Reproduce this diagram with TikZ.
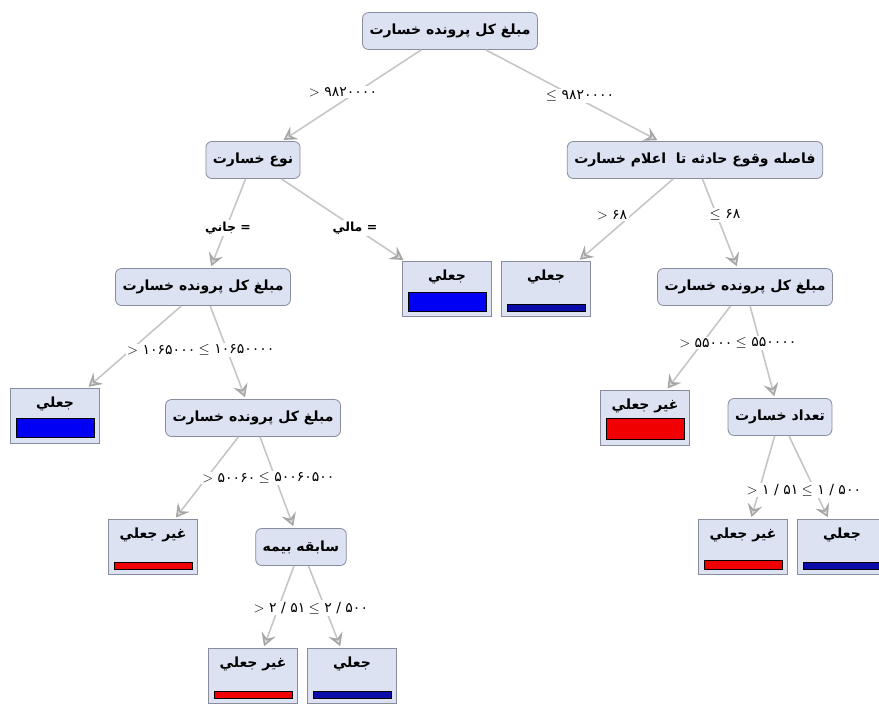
\documentclass[tikz,border=0pt]{standalone}
\usepackage{fontspec}
\newfontfamily\fa[Script=Arabic]{DejaVu Sans}
\newfontfamily\num{DejaVu Sans}
\TeXXeTstate=1
\usetikzlibrary{positioning,arrows.meta}
\definecolor{boxblue}{RGB}{221,226,242}
\definecolor{boxline}{RGB}{135,140,158}
\definecolor{barblue}{RGB}{0,0,245}
\definecolor{bardark}{RGB}{12,12,170}
\definecolor{barred}{RGB}{240,0,0}

\begin{document}
\begin{tikzpicture}[x=1pt, y=-1pt,
	split/.style={ rounded corners=6pt, draw=boxline, fill=boxblue, thick, minimum height=37pt, inner xsep=7pt, font=\fa\bfseries\fontsize{14}{16}\selectfont },
	leaf/.style={ draw=boxline, fill=boxblue, thick, minimum width=89pt, minimum height=55pt, inner sep=0pt, text height=15pt, text depth=32pt, font=\fa\bfseries\fontsize{14}{16}\selectfont },
	barfull/.style={ draw=black, line width=0.8pt, minimum width=78pt, minimum height=19pt, inner sep=0pt },
	barthin/.style={ draw=black, line width=0.8pt, minimum width=78pt, minimum height=7pt, inner sep=0pt },
	edge/.style={ draw=gray!45, line width=1.6pt, shorten >=2pt, -{Stealth[length=13pt,width=15pt,inset=5pt,fill=gray!25,color=gray!70]} },
	lbl/.style={ fill=white, inner sep=1.5pt, font=\num\fontsize{14}{16}\selectfont },
	lblb/.style={ fill=white, inner sep=1.5pt, font=\fa\bfseries\fontsize{12.5}{14}\selectfont }
]
\useasboundingbox (0,0) rectangle (879,707);

% tests
\node at (450,31) (root) [split] {\beginR مبلغ کل پرونده خسارت\endR};
\node at (253,160) (nk) [split] {\beginR نوع خسارت\endR};
\node at (695,160) (fv) [split] {\beginR فاصله وقوع حادثه تا\ \ اعلام خسارت\endR};
\node at (203,287) (mb2) [split] {\beginR مبلغ کل پرونده خسارت\endR};
\node at (745,287) (mb3) [split] {\beginR مبلغ کل پرونده خسارت\endR};
\node at (253,418) (mb4) [split] {\beginR مبلغ کل پرونده خسارت\endR};
\node at (780,417) (td) [split] {\beginR تعداد خسارت\endR};
\node at (301,547) (sb) [split] {\beginR سابقه بیمه\endR};

% leaves
\node at (447,289) (j1) [leaf] {\beginR جعلي\endR};
\node (j1bar) [barfull, fill=barblue, above=5pt of j1.south] {};
\node at (546,289) (j2) [leaf] {\beginR جعلي\endR};
\node (j2bar) [barthin, fill=bardark, above=5pt of j2.south] {};
\node at (55,416) (j3) [leaf] {\beginR جعلي\endR};
\node (j3bar) [barfull, fill=barblue, above=6pt of j3.south] {};
\node at (645,418) (g1) [leaf] {\beginR غير جعلي\endR};
\node (g1bar) [barfull, fill=barred, minimum height=21pt, above=6pt of g1.south] {};
\node at (153,547) (g2) [leaf] {\beginR غير جعلي\endR};
\node (g2bar) [barthin, fill=barred, above=5pt of g2.south] {};
\node at (743,547) (g3) [leaf] {\beginR غير جعلي\endR};
\node (g3bar) [barthin, fill=barred, minimum height=9pt, above=5pt of g3.south] {};
\node at (842,547) (j4) [leaf] {\beginR جعلي\endR};
\node (j4bar) [barthin, fill=bardark, above=5pt of j4.south] {};
\node at (253,676) (g4) [leaf] {\beginR غير جعلي\endR};
\node (g4bar) [barthin, fill=barred, above=5pt of g4.south] {};
\node at (352,676) (j5) [leaf] {\beginR جعلي\endR};
\node (j5bar) [barthin, fill=bardark, above=5pt of j5.south] {};

\draw[edge] (root) -- (nk);
\draw[edge] (root) -- (fv);
\draw[edge] (nk) -- (mb2);
\draw[edge] (nk) -- (j1);
\draw[edge] (fv) -- (j2);
\draw[edge] (fv) -- (mb3);
\draw[edge] (mb2) -- (j3);
\draw[edge] (mb2) -- (mb4);
\draw[edge] (mb3) -- (g1);
\draw[edge] (mb3) -- (td);
\draw[edge] (mb4) -- (g2);
\draw[edge] (mb4) -- (sb);
\draw[edge] (td) -- (g3);
\draw[edge] (td) -- (j4);
\draw[edge] (sb) -- (g4);
\draw[edge] (sb) -- (j5);

% edge labels
\node at (343,92) (gt1) [lbl] {$>$ ۹۸۲۰۰۰۰};
\node at (580,96) (le1) [lbl] {$\le$ ۹۸۲۰۰۰۰};
\node at (228,228) (eq1) [lblb] {\beginR = جاني\endR};
\node at (355,228) (eq2) [lblb] {\beginR = مالي\endR};
\node at (612,215) (gt2) [lbl] {$>$ ۶۸};
\node at (725,215) (le2) [lbl] {$\le$ ۶۸};
\node at (197,350) (gt3) [lbl, anchor=east] {$>$ ۱۰۶۵۰۰۰};
\node (le3) [lbl, right=0pt of gt3] {$\le$ ۱۰۶۵۰۰۰۰};
\node at (734,343) (gt4) [lbl, anchor=east] {$>$ ۵۵۰۰۰};
\node (le4) [lbl, right=0pt of gt4] {$\le$ ۵۵۰۰۰۰};
\node at (257,478) (gt5) [lbl, anchor=east] {$>$ ۵۰۰۶۰};
\node (le5) [lbl, right=0pt of gt5] {$\le$ ۵۰۰۶۰۵۰۰};
\node at (800,490) (gt6) [lbl, anchor=east] {$>$ ۱ / ۵۱};
\node (le6) [lbl, right=0pt of gt6] {$\le$ ۱ / ۵۰۰};
\node at (307,608) (gt7) [lbl, anchor=east] {$>$ ۲ / ۵۱};
\node (le7) [lbl, right=0pt of gt7] {$\le$ ۲ / ۵۰۰};

\end{tikzpicture}
\end{document}
